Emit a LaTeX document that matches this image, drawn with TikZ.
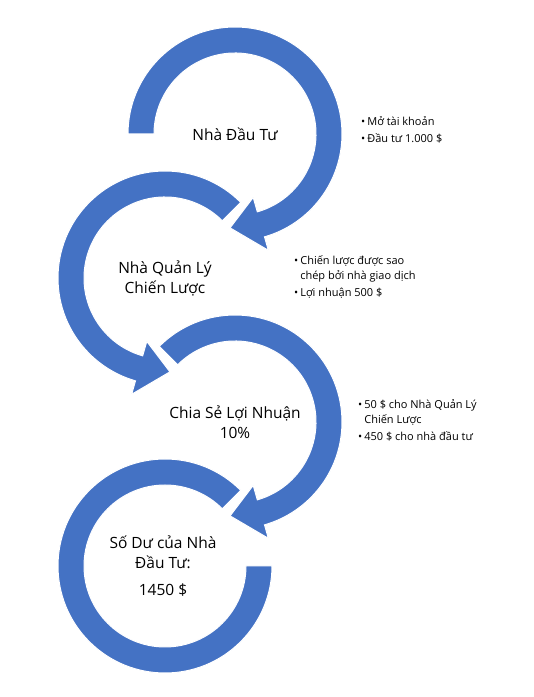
\documentclass[tikz,border=0pt]{standalone}
\usepackage{fontspec}
\setmainfont{Open Sans}
\usepackage{tikz}
\usetikzlibrary{positioning, calc}

\definecolor{ringblue}{RGB}{68,114,196}

\begin{document}
\begin{tikzpicture}[x=1pt, y=1pt,
    ring/.style={fill=ringblue, draw=white, line width=1pt},
    label/.style={align=center, inner sep=0pt, font=\fontsize{15.5}{20}\selectfont},
    note/.style={anchor=west, inner sep=0pt, font=\fontsize{11}{15}\selectfont}]
  \useasboundingbox (0,0) rectangle (534,697);

  % ring centres
  \coordinate (c1) at (235,563);
  \coordinate (c2) at (165,419);
  \coordinate (c3) at (235,275);
  \coordinate (c4) at (165,131);

  % ring 1, clockwise from the left
  \fill[ring] ([shift={(c1)}]180:107) arc[start angle=180, end angle=-74, radius=107]
    -- ([shift={(c1)}]-74:121) -- ([shift={(c1)}]-93:94) -- ([shift={(c1)}]-74:66)
    -- ([shift={(c1)}]-74:81) arc[start angle=-74, end angle=180, radius=81] -- cycle;

  % ring 2, counter-clockwise
  \fill[ring] ([shift={(c2)}]45:107) arc[start angle=45, end angle=254, radius=107]
    -- ([shift={(c2)}]254:121) -- ([shift={(c2)}]273:94) -- ([shift={(c2)}]254:66)
    -- ([shift={(c2)}]254:81) arc[start angle=254, end angle=45, radius=81] -- cycle;

  % ring 3, clockwise
  \fill[ring] ([shift={(c3)}]135:107) arc[start angle=135, end angle=-74, radius=107]
    -- ([shift={(c3)}]-74:121) -- ([shift={(c3)}]-93:94) -- ([shift={(c3)}]-74:66)
    -- ([shift={(c3)}]-74:81) arc[start angle=-74, end angle=135, radius=81] -- cycle;

  % ring 4, no head
  \fill[ring] ([shift={(c4)}]45:107) arc[start angle=45, end angle=360, radius=107]
    -- ([shift={(c4)}]0:81) arc[start angle=360, end angle=45, radius=81] -- cycle;

  % labels
  \node[label] (investor) at (c1) {Nhà Đầu Tư};
  \node[label] (manager) at (c2) {Nhà Quản Lý\\Chiến Lược};
  \node[label] (share) at ($(c3)+(0,-0.5)$) {Chia Sẻ Lợi Nhuận\\10\%};
  \node[label] (balance) at ($(c4)+(-2,0)$) {Số Dư của Nhà\\Đầu Tư:\\[7pt]1450 \$};

  % notes
  \node[note] (note1) at (361,565.5) {\begin{tabular}{@{}l@{\hspace{2pt}}l@{}}
      • & Mở tài khoản\\[2pt]
      • & Đầu tư 1.000 \$
    \end{tabular}};
  \node[note] (note2) at (294,419.5) {\begin{tabular}{@{}l@{\hspace{2pt}}l@{}}
      • & Chiến lược được sao\\
        & chép bởi nhà giao dịch\\[2pt]
      • & Lợi nhuận 500 \$
    \end{tabular}};
  \node[note] (note3) at (358,275.5) {\begin{tabular}{@{}l@{\hspace{2pt}}l@{}}
      • & 50 \$ cho Nhà Quản Lý\\
        & Chiến Lược\\[2.5pt]
      • & 450 \$ cho nhà đầu tư
    \end{tabular}};
\end{tikzpicture}
\end{document}
